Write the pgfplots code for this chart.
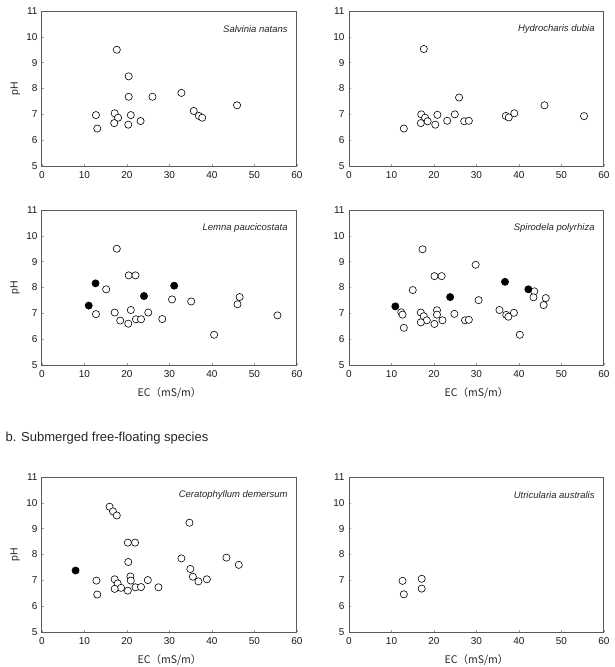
\documentclass[border=0pt]{standalone}
\usepackage{pgfplots}
\pgfplotsset{compat=1.18}
\usepackage{fontspec}
\setmainfont{Liberation Sans}
\newfontfamily\cjk{Noto Sans CJK JP}
\definecolor{axgray}{HTML}{5a5a5a}
\tikzset{sp/.style={font=\fontsize{9.5}{11}\selectfont\itshape, anchor=east, text=black!85}}
\pgfplotsset{
  panel/.style={
    scale only axis, width=255pt, height=155pt,
    xmin=0, xmax=60, ymin=5, ymax=11,
    xtick={0,10,...,60}, ytick={5,6,...,11},
    axis line style={axgray, line width=1pt},
    tick style={axgray!60, line width=0.5pt},
    major tick length=2pt, tick align=inside,
    xtick pos=bottom, ytick pos=left,
    /pgf/number format/assume math mode=true,
    tick label style={font=\fontsize{10}{12}\selectfont, text=black!90},
    xticklabel style={yshift=-2pt},
    yticklabel style={xshift=-1pt},
    label style={font=\fontsize{10.5}{12}\selectfont, text=black!85},
    ylabel style={at={(axis description cs:-0.105,0.5)}, anchor=center, rotate=0},
    xlabel style={at={(axis description cs:0.5,-0.18)}, anchor=center},
    clip=false,
  },
  op/.style={only marks, mark=*, mark size=3.6pt, mark options={draw=black, fill=white, line width=0.6pt}},
  fl/.style={only marks, mark=*, mark size=3.6pt, mark options={draw=black, fill=black, line width=0.6pt}},
}
\begin{document}
\begin{tikzpicture}
\useasboundingbox (0,0) rectangle (614pt,-667pt);
% Panel 1
\begin{axis}[panel, at={(42pt,-11pt)}, anchor=north west, ylabel={pH}]
\addplot[op] coordinates {(17.6,9.50)(20.4,8.47)(20.4,7.68)(26.0,7.68)(32.8,7.83)(12.7,6.97)(17.1,7.04)(17.9,6.87)(20.9,6.97)(13.0,6.45)(17.0,6.66)(20.3,6.60)(23.2,6.74)(35.7,7.13)(36.9,6.94)(37.7,6.87)(45.9,7.35)};
\node[sp] at (axis description cs:0.977,0.884) {Salvinia natans};
\end{axis}
% Panel 2
\begin{axis}[panel, at={(349pt,-11pt)}, anchor=north west]
\addplot[op] coordinates {(17.6,9.53)(25.9,7.65)(17.0,7.00)(17.9,6.87)(18.5,6.73)(20.8,6.98)(24.9,7.00)(12.9,6.45)(16.9,6.66)(20.3,6.60)(23.1,6.75)(27.1,6.73)(28.2,6.75)(36.9,6.94)(37.6,6.88)(38.9,7.04)(46.0,7.35)(55.3,6.93)};
\node[sp] at (axis description cs:0.977,0.884) {Hydrocharis dubia};
\end{axis}
% Panel 3
\begin{axis}[panel, at={(42pt,-210pt)}, anchor=north west, ylabel={pH}, xlabel={\cjk EC（mS/m）}]
\addplot[op] coordinates {(17.6,9.50)(20.4,8.47)(22.0,8.47)(15.1,7.93)(12.7,6.97)(17.1,7.03)(18.4,6.72)(20.9,7.13)(20.3,6.60)(22.1,6.77)(23.3,6.77)(25.0,7.03)(28.3,6.78)(30.6,7.54)(35.1,7.46)(40.5,6.17)(46.0,7.35)(46.5,7.63)(55.4,6.92)};
\addplot[fl] coordinates {(11.0,7.30)(12.6,8.16)(24.0,7.67)(31.1,8.07)};
\node[sp] at (axis description cs:0.977,0.884) {Lemna paucicostata};
\end{axis}
% Panel 4
\begin{axis}[panel, at={(349pt,-210pt)}, anchor=north west, xlabel={\cjk EC（mS/m）}]
\addplot[op] coordinates {(17.3,9.48)(29.8,8.88)(20.1,8.44)(21.8,8.44)(15.0,7.90)(30.5,7.51)(12.3,7.04)(12.6,6.95)(12.9,6.44)(16.9,7.03)(17.6,6.89)(18.3,6.73)(16.9,6.65)(20.7,7.12)(20.7,6.95)(20.1,6.59)(22.0,6.73)(24.8,6.98)(27.3,6.73)(28.2,6.75)(35.4,7.13)(37.0,6.94)(37.5,6.87)(38.8,7.02)(40.2,6.17)(43.6,7.85)(43.4,7.62)(45.8,7.32)(46.3,7.59)};
\addplot[fl] coordinates {(10.9,7.27)(23.8,7.63)(36.7,8.22)(42.2,7.93)};
\node[sp] at (axis description cs:0.977,0.884) {Spirodela polyrhiza};
\end{axis}
% Section title
\node[anchor=west, font=\fontsize{13}{15}\selectfont, text=black!85] at (2pt,-438pt) {b. Submerged free-floating species};
% Panel 5
\begin{axis}[panel, at={(42pt,-477pt)}, anchor=north west, ylabel={pH}, xlabel={\cjk EC（mS/m）}]
\addplot[op] coordinates {(15.9,9.85)(16.7,9.67)(17.6,9.51)(20.2,8.46)(21.9,8.46)(20.3,7.71)(32.8,7.85)(34.7,9.23)(34.9,7.44)(35.5,7.14)(36.8,6.96)(38.8,7.04)(43.4,7.88)(46.3,7.60)(12.8,6.99)(13.0,6.45)(17.1,7.04)(17.8,6.88)(18.6,6.71)(17.1,6.67)(20.2,6.60)(20.8,7.15)(20.9,6.99)(22.0,6.73)(23.3,6.74)(24.9,7.01)(27.4,6.73)};
\addplot[fl] coordinates {(7.9,7.38)};
\node[sp] at (axis description cs:0.977,0.884) {Ceratophyllum demersum};
\end{axis}
% Panel 6
\begin{axis}[panel, at={(349pt,-477pt)}, anchor=north west, xlabel={\cjk EC（mS/m）}]
\addplot[op] coordinates {(12.6,6.98)(12.9,6.46)(17.1,7.06)(17.1,6.68)};
\node[sp] at (axis description cs:0.977,0.884) {Utricularia australis};
\end{axis}
\end{tikzpicture}
\end{document}
